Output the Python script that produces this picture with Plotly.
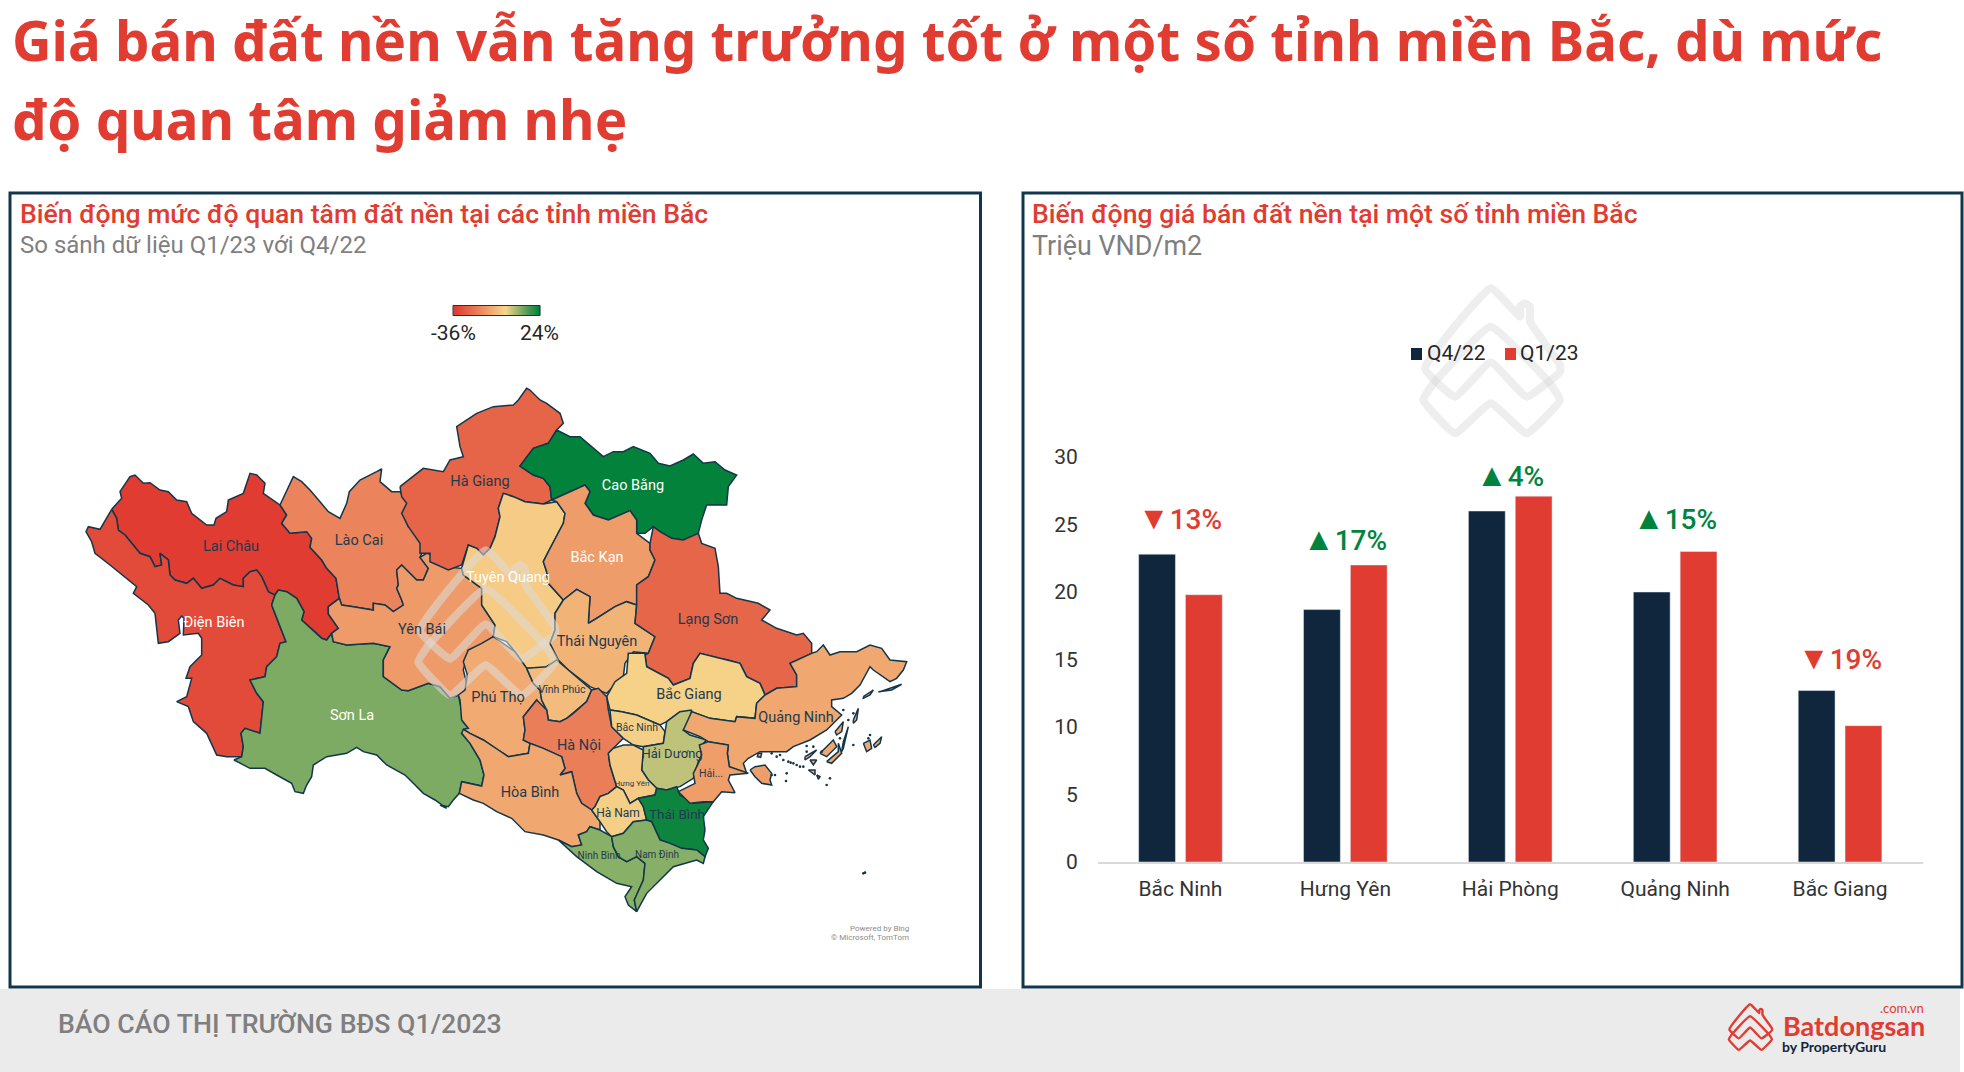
import plotly.graph_objects as go
from plotly.colors import sample_colorscale

# ---------- bar chart data ----------
CITIES = ["Bắc Ninh", "Hưng Yên", "Hải Phòng", "Quảng Ninh", "Bắc Giang"]
Q4_22 = [22.8, 18.7, 26.0, 20.0, 12.7]
Q1_23 = [19.8, 22.0, 27.1, 23.0, 10.1]
CHANGE_MARK = ["▼", "▲", "▲", "▲", "▼"]
CHANGE_PCT = ["13%", "17%", "4%", "15%", "19%"]
CHANGE_COLORS = ["#E03C31", "#00843D", "#00843D", "#00843D", "#E03C31"]
CHANGE_Y = [25.5, 23.9, 28.7, 25.5, 15.1]
Y_TICKS = [0, 5, 10, 15, 20, 25, 30]

# ---------- map data: change in interest, % ----------
PROVINCE_NAMES = ["Lai Châu", "Điện Biên", "Sơn La", "Lào Cai", "Yên Bái", "Hà Giang", "Cao Bằng",
                  "Tuyên Quang", "Bắc Kạn", "Thái Nguyên", "Lạng Sơn", "Bắc Giang", "Phú Thọ",
                  "Vĩnh Phúc", "Hà Nội", "Hòa Bình", "Bắc Ninh", "Hải Dương", "Hưng Yên", "Hà Nam",
                  "Thái Bình", "Ninh Bình", "Nam Định", "Quảng Ninh", "Hải Phòng"]
PROVINCE_VALUES = [-36, -32.4, 12, -19, -13.6, -26.4, 24, -2.4, -13.5, -8, -26.2, -1, -10,
                   -5.9, -20.5, -10.8, -1.5, 5.5, -2.5, -1.5, 23, 10.8, 11, -10.8, -13]
PROVINCE_LABELS = ["Lai Châu", "Điện Biên", "Sơn La", "Lào Cai", "Yên Bái", "Hà Giang", "Cao Bằng",
                   "Tuyên Quang", "Bắc Kạn", "Thái Nguyên", "Lạng Sơn", "Bắc Giang", "Phú Thọ",
                   "Vĩnh Phúc", "Hà Nội", "Hòa Bình", "Bắc Ninh", "Hải Dương", "Hưng Yên", "Hà Nam",
                   "Thái Bình", "Ninh Bình", "Nam Định", "Quảng Ninh", "Hải..."]
LABEL_E = [231, 214, 352, 359, 422, 480, 633, 508, 597, 597, 708, 689, 498, 562, 579, 530, 637, 672, 632, 618, 677, 599, 657, 796, 711]
LABEL_N = [547, 623, 716, 541, 630, 482, 486, 578, 558, 642, 620, 695, 698, 690, 746, 793, 728, 755, 784, 814, 816, 856, 855, 718, 774]
LABEL_SIZE = [14.5, 14.5, 14.5, 14.5, 14.5, 14.5, 14.5, 14.5, 14.5, 14.5, 14.5, 14.5, 14.5, 10.5, 14.5, 14.5, 10.5, 13, 8, 12, 13.5, 10, 10, 14.5, 10.5]
WHITE_LABELS = ["Điện Biên", "Sơn La", "Cao Bằng", "Tuyên Quang", "Bắc Kạn"]

# Province outlines, in map-grid units of four map sheets
SHEETS = {"A": (80, 470), "B": (400, 380), "C": (440, 640), "D": (640, 620)}
LAI_CHAU = [("A", [(95,118),(125,85),(120,65),(150,20),(165,15),(190,40),(210,38),(240,60),(265,65),(290,90),(320,95),(335,130),(380,165),(402,165),(408,145),(440,125),(445,90),(490,70),(510,10),(530,15),(555,40),(550,70),(600,105),(620,135),(605,160),(630,190),(680,185),(695,205),(690,232),(725,270),(740,295),(768,325),(778,385),(745,410),(745,432),(775,475),(755,490),(740,510),(725,505),(710,490),(665,450),(672,425),(650,385),(620,365),(595,360),(580,380),(565,365),(545,320),(530,300),(510,305),(490,325),(490,350),(460,345),(420,325),(400,345),(365,355),(340,325),(320,340),(285,330),(270,315),(265,270),(240,250),(245,285),(225,290),(210,260),(180,250),(135,195),(115,180),(110,145)])]
DIEN_BIEN = [("A", [(95,118),(75,150),(60,178),(25,170),(18,185),(35,215),(45,250),(90,285),(115,305),(170,350),(160,370),(205,405),(225,430),(230,470),(235,520),(265,515),(300,490),(295,450),(305,438),(312,445),(310,495),(355,490),(365,505),(365,555),(330,590),(318,625),(335,625),(320,680),(290,695),(325,710),(340,755),(380,790),(410,855),(440,860),(485,860),(490,830),(483,790),(495,775),(540,790),(550,695),(530,670),(510,630),(555,620),(560,590),(590,560),(600,520),(618,515),(600,470),(575,405),(585,375),(565,365),(545,320),(530,300),(510,305),(490,325),(490,350),(460,345),(420,325),(400,345),(365,355),(340,325),(320,340),(285,330),(270,315),(265,270),(240,250),(245,285),(225,290),(210,260),(180,250),(135,195),(115,180),(110,145)])]
SON_LA = [("A", [(595,360),(620,365),(650,385),(672,425),(665,450),(710,490),(725,505),(740,510),(755,490),(760,515),(800,525),(880,520),(930,530),(910,570),(910,620),(965,660),(985,662),(1045,640),(1080,650),(1110,685),(1135,675),(1145,720)]),
          ("C", [(65,240),(85,265),(65,280),(90,310),(120,360),(132,405),(125,438),(65,425),(58,460),(40,480),(25,500),(0,495)]),
          ("A", [(1100,1015),(1065,990),(1030,970),(1000,940),(975,915),(920,885),(890,855),(850,845),(830,832),(800,850),(740,860),(700,885),(695,920),(680,945),(670,970),(645,965),(635,940),(590,915),(555,895),(510,895),(480,880),(462,870),(485,860),(490,830),(483,790),(495,775),(540,790),(550,695),(530,670),(510,630),(555,620),(560,590),(590,560),(600,520),(618,515),(600,470),(575,405),(585,375)])]
LAO_CAI = [("A", [(600,105),(625,50),(640,20),(665,35),(690,60),(720,95),(745,125),(780,145),(800,100),(808,65),(840,30),(890,5),(905,-3),(900,35),(935,65),(960,65),(985,100),(970,135),(985,170),(1030,205),(1030,240),(1020,262),(1045,295),(1030,330),(1010,330),(965,285),(950,300),(955,345),(950,355),(965,390),(970,405),(940,425),(915,405),(880,400),(880,420),(820,410),(785,405),(778,385),(768,325),(740,295),(725,270),(690,232),(695,205),(680,185),(630,190),(605,160),(620,135)])]
YEN_BAI = [("A", [(778,385),(785,405),(820,410),(880,420),(880,400),(915,405),(940,425),(970,405),(965,390),(950,355),(955,345),(950,300),(965,285),(1010,330),(1030,330),(1045,295),(1020,262),(1040,250),(1060,255),(1095,290),(1145,295),(1150,315),(1205,355),(1205,405),(1245,465),(1240,500),(1205,525),(1165,540),(1150,600),(1160,640),(1160,660),(1135,675),(1110,685),(1080,650),(1045,640),(985,662),(965,660),(910,620),(910,570),(930,530),(880,520),(800,525),(760,515),(755,490),(775,475),(745,432),(745,410)])]
HA_GIANG = [("B", [(0,320),(5,350),(20,370),(5,400),(25,440),(60,490),(60,520),(90,520),(90,545),(145,570),(185,555),(205,495),(230,505),(250,525),(270,505),(285,470),(300,410),(295,385),(310,340),(340,350),(375,365),(430,372),(455,360),(450,320),(430,295),(400,285),(360,258),(400,205),(445,190),(470,150),(490,130),(480,100),(440,70),(420,60),(390,30),(380,25),(355,60),(340,75),(280,80),(230,100),(170,140),(180,200),(190,230),(150,240),(130,275),(70,265)])]
CAO_BANG = [("B", [(470,150),(510,170),(540,170),(580,205),(610,230),(640,215),(670,215),(700,200),(750,220),(775,250),(810,258),(850,240),(880,222),(910,250),(945,245),(975,270),(1010,285),(985,320),(980,375),(920,375),(905,420),(895,460),(850,480),(815,475),(780,455),(760,440),(735,460),(710,460),(710,420),(690,392),(625,420),(580,405),(555,370),(570,335),(555,315),(500,340),(455,360),(450,320),(430,295),(400,285),(360,258),(400,205),(445,190)])]
BAC_KAN = [("B", [(455,360),(500,340),(555,315),(570,335),(555,370),(580,405),(625,420),(690,392),(710,420),(710,460),(750,490),(750,510),(765,540),(745,590),(710,615),(710,675),(680,665),(645,680),(590,715),(565,730),(570,650),(530,628),(490,660),(445,610),(440,575),(430,545),(445,515),(490,430),(495,400),(470,365)])]
TUYEN_QUANG = [("B", [(310,340),(340,350),(375,365),(430,372),(470,365),(495,400),(490,430),(445,515),(430,545),(440,575),(445,610),(490,660),(465,700),(465,750),(450,790),(475,840),(430,865),(380,865),(345,815),(320,785),(280,770),(285,735),(245,675),(245,625),(190,585),(185,565),(205,495),(230,505),(250,525),(270,505),(285,470),(300,410),(295,385)])]
THAI_NGUYEN = [("B", [(490,660),(530,628),(570,650),(565,730),(590,715),(645,680),(680,665),(710,675),(705,730),(765,770),(745,820),(700,815),(675,850),(670,890),(620,940),(570,920),(505,870),(475,840),(450,790),(465,750),(465,700)])]
LANG_SON = [("B", [(710,615),(745,590),(765,540),(750,510),(750,490),(760,440),(780,455),(815,475),(850,480),(895,460),(905,490),(945,505),(955,560),(960,640),(980,640),(1010,655),(1075,670),(1110,690),(1085,720),(1130,745)]),
            ("D", [(470,45),(490,40),(515,70),(515,100),(450,130),(470,165),(470,200),(410,205),(375,225),(360,190),(320,170),(300,130),(265,120),(240,115),(180,100),(160,130),(150,175),(100,195),(85,175),(20,140),(15,105)]),
            ("B", [(745,820),(765,770),(705,730),(710,675)])]
BAC_GIANG = [("D", [(15,105),(20,140),(85,175),(100,195),(150,175),(160,130),(180,100),(240,115),(265,120),(300,130),(320,170),(360,190),(375,225),(350,250),(345,295),(290,290),(285,305),(210,295),(155,275)]),
             ("C", [(720,215),(680,245),(660,255),(590,225),(545,215),(510,210),(500,170),(525,125),(560,100),(565,40),(615,40)])]
PHU_THO = [("C", [(160,-10),(225,35),(260,85),(280,130),(300,150),(305,180),(320,210),(320,240),(290,180),(250,230),(255,270),(250,300),(270,310),(265,340),(235,345),(205,350),(175,330),(130,300),(90,280),(70,268),(85,265),(65,240),(60,180),(55,165),(75,150),(82,105),(70,65),(85,30),(125,10)])]
VINH_PHUC = [("C", [(260,85),(320,80),(350,60),(385,90),(445,140),(455,150),(440,185),(400,220),(380,235),(360,245),(325,240),(320,210),(305,180),(300,150),(280,130)])]
HA_NOI = [("C", [(290,180),(320,210),(325,240),(360,245),(380,235),(400,220),(440,185),(455,150),(475,145),(500,170),(505,210),(515,260),(550,295),(520,325),(505,340),(510,375),(530,440),(505,460),(480,470),(465,500),(455,510),(425,490),(410,460),(395,395),(360,405),(375,385),(365,350),(310,325),(270,310),(250,300),(255,270),(250,230)])]
HOA_BINH = [("C", [(90,280),(130,300),(175,330),(205,350),(235,345),(265,340),(270,310),(310,325),(365,350),(375,385),(360,405),(395,395),(410,460),(425,490),(455,510),(480,545),(480,570),(450,560),(440,575),(415,585),(425,615),(395,620),(355,600),(310,585),(255,575),(215,535),(170,515),(130,490),(100,480),(70,465),(58,460),(65,425),(125,438),(132,405),(120,360),(90,310),(65,280),(70,268)])]
BAC_NINH = [("C", [(510,210),(545,215),(590,225),(660,255),(675,275),(670,310),(610,320),(580,315),(550,295),(515,260)])]
HAI_DUONG = [("C", [(755,210),(750,240),(730,270),(750,285),(800,300),(780,320),(790,340),(775,365),(760,415),(720,440),(680,450),(650,445),(625,420),(605,390),(610,330),(610,320),(670,310),(675,275),(680,245),(720,215)])]
HUNG_YEN = [("C", [(505,340),(520,325),(550,315),(580,315),(610,330),(605,390),(625,420),(650,445),(645,465),(595,475),(570,490),(550,450),(530,440),(510,375)])]
HA_NAM = [("C", [(455,510),(465,500),(480,470),(505,460),(530,440),(550,450),(570,490),(595,475),(610,500),(620,540),(580,545),(550,580),(515,590),(500,575),(480,545)])]
THAI_BINH = [("C", [(595,475),(645,465),(650,445),(680,450),(710,440),(720,465),(760,490),(820,485),(790,530),(795,570),(790,600),(805,625),(795,650),(770,630),(725,625),(690,610),(660,600),(650,580),(635,545),(620,540),(610,500)])]
NAM_DINH = [("C", [(515,590),(550,580),(580,545),(620,540),(635,545),(650,580),(660,600),(690,610),(725,625),(770,630),(795,650),(790,670),(770,660),(700,680),(660,720),(620,760),(590,815),(583,780),(610,720),(615,670),(590,650),(560,665),(535,650),(520,620)])]
NINH_BINH = [("C", [(355,600),(395,620),(425,615),(415,585),(440,575),(450,560),(480,570),(515,590),(520,620),(535,650),(560,665),(590,650),(615,670),(610,720),(583,780),(590,815),(565,795),(555,770),(575,740),(530,730),(470,695),(410,650)])]
QUANG_NINH = [("D", [(515,100),(530,95),(550,75),(570,105),(600,95),(650,95),(690,75),(725,85),(750,120),(800,125),(790,150),(770,175),(750,185),(700,150),(690,140),(680,160),(660,195),(635,220),(610,235),(575,240),(575,260),(605,285),(560,330),(510,360),(460,380),(440,395),(360,395),(325,415),(310,430),(320,460),(300,452),(268,440),(262,400),(265,375),(205,365),(180,350),(130,330),(155,275),(210,295),(285,305),(290,290),(345,295),(350,250),(375,225),(410,205),(470,200),(470,165),(450,130)])]
HAI_PHONG = [("D", [(265,375),(262,400),(268,440),(300,452),(325,460),(270,465),(265,480),(285,518),(245,515),(220,545),(190,545),(150,550),(115,515),(165,490),(160,460),(175,430),(185,405),(178,375),(205,365)])]
OUTLINES = [LAI_CHAU, DIEN_BIEN, SON_LA, LAO_CAI, YEN_BAI, HA_GIANG, CAO_BANG, TUYEN_QUANG, BAC_KAN,
            THAI_NGUYEN, LANG_SON, BAC_GIANG, PHU_THO, VINH_PHUC, HA_NOI, HOA_BINH, BAC_NINH, HAI_DUONG,
            HUNG_YEN, HA_NAM, THAI_BINH, NINH_BINH, NAM_DINH, QUANG_NINH, HAI_PHONG]
QN_ISLANDS = [[(720,215),(785,193),(755,210),(715,215)], [(670,230),(700,210),(690,225),(670,235)], [(640,300),(655,265),(650,300),(640,310)],
              [(585,335),(610,305),(605,335),(590,345)], [(610,365),(625,320),(610,385),(605,395)], [(560,425),(595,395),(595,370),(605,400),(575,430)],
              [(540,400),(580,360),(590,380),(560,410)], [(495,410),(530,390),(510,410),(495,420)], [(670,370),(690,360),(695,385),(680,395)],
              [(700,375),(725,350),(720,370),(705,382)], [(510,420),(530,420),(520,435)], [(505,450),(525,450),(525,465)], [(530,465),(540,470),(535,478)],
              [(355,400),(365,400),(362,412),(352,410)]]
HP_ISLANDS = [[(330,450),(345,440),(375,435),(395,460),(390,480),(395,495),(365,490),(345,470)]]
ROCKS_E = [(410,410),(430,420),(445,425),(460,430),(480,440),(440,460),(420,405),(395,465),(405,465),(570,475),(560,495),(438,483),(690,345),(685,355),(670,760),(675,758),(640,375),(500,378),(395,400),(452,428),(470,435),(490,440),(500,395),(520,380),(545,395),(600,355),(640,280),(625,300),(610,270)]
LOGO_PATHS = [[(165,365),(75,280),(272,40),(360,125),(360,95),(375,85),(390,95),(390,140),(480,270),(480,290),(380,365),(272,262),(165,365)],
              [(100,325),(272,155),(450,325)],
              [(100,325),(70,375),(165,475),(272,385),(380,475),(480,375),(450,325)]]
GRADIENT_STOPS = [-36, -33, -30, -27, -24, -21, -18, -15, -12, -9, -6, -3, 0, 3, 6, 9, 12, 15, 18, 21, 24]

NAVY = "#12364B"
RED = "#E03C31"
SCALE = [[0, "#E03C31"], [0.6, "#F7D58B"], [1, "#03823C"]]
VMIN, VMAX = -36, 24
FONT = "Roboto"


def color_of(v):
    return sample_colorscale(SCALE, (v - VMIN) / (VMAX - VMIN))[0]


def sheet_points(sheet, pts):
    ox, oy = SHEETS[sheet]
    return [ox + p[0] / 3 for p in pts], [oy + p[1] / 3 for p in pts]


fig = go.Figure()


def add_region(xs, ys, value, name):
    fig.add_trace(go.Scatter(x=xs + xs[:1], y=ys + ys[:1], mode="lines", fill="toself", fillcolor=color_of(value),
                             line=dict(color=NAVY, width=1.5), name=name, showlegend=False, hoverinfo="name"))


for name, value, parts in zip(PROVINCE_NAMES, PROVINCE_VALUES, OUTLINES):
    xs, ys = [], []
    for sheet, pts in parts:
        a, b = sheet_points(sheet, pts)
        xs += a
        ys += b
    add_region(xs, ys, value, name)
for isl in QN_ISLANDS:
    a, b = sheet_points("D", isl)
    add_region(a, b, PROVINCE_VALUES[PROVINCE_NAMES.index("Quảng Ninh")], "Quảng Ninh")
for isl in HP_ISLANDS:
    a, b = sheet_points("D", isl)
    add_region(a, b, PROVINCE_VALUES[PROVINCE_NAMES.index("Hải Phòng")], "Hải Phòng")
a, b = sheet_points("D", ROCKS_E)
fig.add_trace(go.Scatter(x=a, y=b, mode="markers", marker=dict(color=NAVY, size=2.6), showlegend=False, hoverinfo="skip"))


def add_logo(x0, y0, s, color, width):
    for path in LOGO_PATHS:
        fig.add_trace(go.Scatter(x=[x0 + p[0] * s for p in path], y=[y0 + p[1] * s for p in path], mode="lines",
                                 line=dict(color=color, width=width, shape="spline", smoothing=0.35),
                                 showlegend=False, hoverinfo="skip"))


add_logo(395, 537, 1 / 3, "rgba(220,220,220,0.55)", 8)
add_logo(1400, 275, 1 / 3, "rgba(215,215,215,0.42)", 8)
add_logo(1721.5, 1000, 0.105, RED, 2.4)

fig.add_trace(go.Scatter(
    x=LABEL_E, y=LABEL_N, mode="text", text=PROVINCE_LABELS, textposition="middle center",
    textfont=dict(family=FONT, size=LABEL_SIZE, color=["#FFFFFF" if n in WHITE_LABELS else "#1F3A4D" for n in PROVINCE_NAMES]),
    showlegend=False, hoverinfo="skip"))

# gradient legend of the map
fig.add_trace(go.Heatmap(z=[GRADIENT_STOPS, GRADIENT_STOPS], x=[455.2 + (v - VMIN) * 82.6 / (VMAX - VMIN) for v in GRADIENT_STOPS], y=[308, 313],
                         colorscale=SCALE, zmin=VMIN, zmax=VMAX, showscale=False, hoverinfo="skip", zsmooth="best"))

fig.add_trace(go.Bar(x=CITIES, y=Q4_22, name="Q4/22", marker_color="#10263C", xaxis="x2", yaxis="y2", showlegend=False))
fig.add_trace(go.Bar(x=CITIES, y=Q1_23, name="Q1/23", marker_color="#E03C31", xaxis="x2", yaxis="y2", showlegend=False))

PAGE = dict(xref="x", yref="y", showarrow=False)
ann = [
    dict(text="Giá bán đất nền vẫn tăng trưởng tốt ở một số tỉnh miền Bắc, dù mức", x=10, y=40, xanchor="left", yanchor="middle",
         font=dict(family="Noto Sans", size=54.7, color=RED, weight=700), **PAGE),
    dict(text="độ quan tâm giảm nhẹ", x=10, y=119, xanchor="left", yanchor="middle",
         font=dict(family="Noto Sans", size=54.7, color=RED, weight=700), **PAGE),
    dict(text="Biến động mức độ quan tâm đất nền tại các tỉnh miền Bắc", x=18, y=213, xanchor="left", yanchor="middle",
         font=dict(family=FONT, size=26.6, color=RED, weight=500), **PAGE),
    dict(text="So sánh dữ liệu Q1/23 với Q4/22", x=18, y=245, xanchor="left", yanchor="middle",
         font=dict(family=FONT, size=24, color="#7F7F7F"), **PAGE),
    dict(text="Biến động giá bán đất nền tại một số tỉnh miền Bắc", x=1030, y=213, xanchor="left", yanchor="middle",
         font=dict(family=FONT, size=26.6, color=RED, weight=500), **PAGE),
    dict(text="Triệu VND/m2", x=1030, y=246, xanchor="left", yanchor="middle",
         font=dict(family=FONT, size=26.9, color="#7F7F7F"), **PAGE),
    dict(text="Q4/22", x=1425, y=353, xanchor="left", yanchor="middle", font=dict(family=FONT, size=21, color="#262626"), **PAGE),
    dict(text="Q1/23", x=1518, y=353, xanchor="left", yanchor="middle", font=dict(family=FONT, size=21, color="#262626"), **PAGE),
    dict(text="-36%", x=453, y=333, yanchor="middle", font=dict(family=FONT, size=21, color="#262626"), **PAGE),
    dict(text="24%", x=539, y=333, yanchor="middle", font=dict(family=FONT, size=21, color="#262626"), **PAGE),
    dict(text="BÁO CÁO THỊ TRƯỜNG BĐS Q1/2023", x=56, y=1024, xanchor="left", yanchor="middle",
         font=dict(family=FONT, size=26.7, color="#7F7F7F", weight=500), **PAGE),
    dict(text="Powered by Bing", x=911, y=928, xanchor="right", yanchor="middle", font=dict(family=FONT, size=8, color="#8C8C8C"), **PAGE),
    dict(text="© Microsoft, TomTom", x=911, y=937, xanchor="right", yanchor="middle", font=dict(family=FONT, size=8, color="#8C8C8C"), **PAGE),
    dict(text=".com.vn", x=1926, y=1008, xanchor="right", yanchor="middle", font=dict(family="Lato", size=13, color=RED), **PAGE),
    dict(text="Batdongsan", x=1927, y=1025, xanchor="right", yanchor="middle", font=dict(family="Lato", size=27, color=RED, weight=700), **PAGE),
    dict(text="by PropertyGuru", x=1780, y=1046, xanchor="left", yanchor="middle", font=dict(family="Lato", size=14, color="#10263C", weight=700), **PAGE),
]
for city, mark, pct, col, yy in zip(CITIES, CHANGE_MARK, CHANGE_PCT, CHANGE_COLORS, CHANGE_Y):
    ann.append(dict(text=f'<span style="font-size:32px">{mark}</span>{pct}', x=city, y=yy, xref="x2", yref="y2", showarrow=False, yanchor="middle",
                    font=dict(family=FONT, size=28, color=col, weight=500)))


def rect(x0, y0, x1, y1, fill="rgba(0,0,0,0)", line=NAVY, width=0, layer="below"):
    return dict(type="rect", xref="x", yref="y", x0=x0, y0=y0, x1=x1, y1=y1, fillcolor=fill,
                line=dict(color=line, width=width), layer=layer)


shapes = [
    rect(0, 989, 1960, 1072, fill="#EBEBEB"),
    rect(10, 193, 980.5, 987, width=3),
    rect(1023, 193, 1962, 987, width=3),
    rect(453, 305.5, 540, 315.5, line=NAVY, width=1, layer="above"),
    rect(1411, 348, 1422, 360, fill="#10263C", layer="above"),
    rect(1505, 348, 1516, 360, fill="#E03C31", layer="above"),
]

fig.update_layout(
    width=1964, height=1072, margin=dict(l=0, r=0, t=0, b=0, autoexpand=False), paper_bgcolor="#FFFFFF", plot_bgcolor="rgba(0,0,0,0)",
    showlegend=False, barmode="group", bargap=0.432, bargroupgap=0.214,
    xaxis=dict(domain=[0, 1], range=[0, 1964], visible=False, fixedrange=True),
    yaxis=dict(domain=[0, 1], range=[1072, 0], visible=False, fixedrange=True),
    xaxis2=dict(domain=[1098 / 1964, 1922.5 / 1964], anchor="y2", showgrid=False, showline=True, linecolor="#D9D9D9", linewidth=1.5,
                ticks="outside", ticklen=7, tickcolor="rgba(0,0,0,0)", tickfont=dict(family=FONT, size=21, color="#333333"), fixedrange=True),
    yaxis2=dict(domain=[(1072 - 862) / 1072, (1072 - 457) / 1072], range=[0, 30], anchor="x2", tickvals=Y_TICKS, showgrid=False, zeroline=False,
                ticks="outside", ticklen=15, tickcolor="rgba(0,0,0,0)", tickfont=dict(family=FONT, size=21, color="#333333"), fixedrange=True),
    annotations=ann, shapes=shapes,
)

fig.write_html("out.html", config={"displayModeBar": False},
               post_script="document.body.style.margin='0';document.body.style.overflow='hidden';")
